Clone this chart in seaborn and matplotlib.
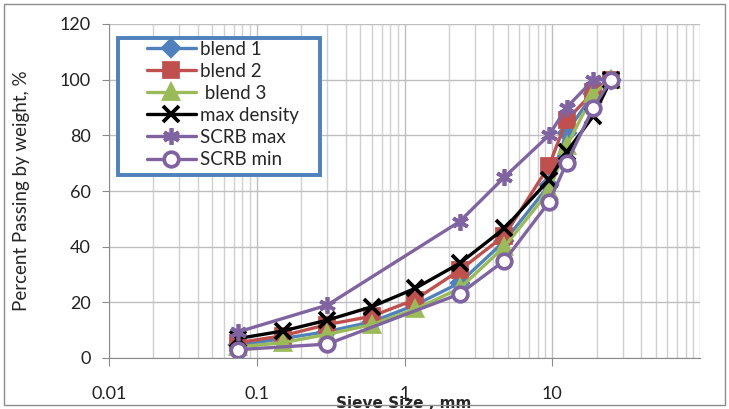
import numpy as np
import pandas as pd
import seaborn as sns
import matplotlib.pyplot as plt
from matplotlib.patches import Rectangle
from matplotlib.ticker import LogLocator, NullFormatter, FixedLocator

sieve = [0.075, 0.15, 0.3, 0.6, 1.18, 2.36, 4.75, 9.5, 12.5, 19, 25]
blend1 = [4.5, 7, 9.5, 13, 19, 27, 42, 62, 81, 95, 100]
blend2 = [5.5, 8, 12, 15, 21, 31.5, 44, 69, 85.5, 95.5, 100]
blend3 = [4, 5.5, 8.5, 12, 17.5, 25, 40, 60, 76, 95, 100]
max_density = [7, 9.7, 13.6, 18.4, 25, 34, 46.6, 64, 74, 87, 100]
scrb_sieve = [0.075, 0.3, 2.36, 4.75, 9.5, 12.5, 19, 25]
scrb_max = [9.4, 19, 49, 65, 80, 90, 100, 100]
scrb_min = [3, 5, 23, 35, 56, 70, 90, 100]

sns.set_style("white")
plt.rcParams['font.family'] = ['Lato', 'DejaVu Sans']

fig = plt.figure(figsize=(7.29, 4.09), dpi=100)
ax = fig.add_axes([109/729, 1-358/409, (700-109)/729, (358-24)/409])

series = [
    ("blend 1", sieve, blend1, "#4F81BD", "D", "#4F81BD", 8),
    ("blend 2", sieve, blend2, "#C0504D", "s", "#C0504D", 9.5),
    (" blend 3", sieve, blend3, "#9BBB59", "^", "#9BBB59", 9.5),
    ("max density", sieve, max_density, "black", "x", "black", 11),
    ("SCRB max", scrb_sieve, scrb_max, "#8064A2", (6, 2, 0), "#8064A2", 12),
    ("SCRB min", scrb_sieve, scrb_min, "#8064A2", "o", "white", 10.5),
]
for name, xs, ys, col, mk, fc, ms in series:
    sns.lineplot(x=xs, y=ys, ax=ax, color=col, lw=2.4, marker=mk, markersize=ms,
                 markerfacecolor=fc, markeredgecolor=col, markeredgewidth=2.7,
                 label=name, sort=False)

ax.set_xscale("log")
ax.set_xlim(0.01, 100)
ax.set_ylim(0, 120)
ax.set_yticks(range(0, 121, 20))
ax.xaxis.set_major_locator(FixedLocator([0.01, 0.1, 1, 10]))
ax.set_xticklabels(["0.01", "0.1", "1", "10"])
ax.xaxis.set_minor_locator(LogLocator(base=10, subs=np.arange(2, 10)))
ax.xaxis.set_minor_formatter(NullFormatter())

ax.grid(True, which="major", axis="both", color="#BEBEBE", lw=1)
ax.grid(True, which="minor", axis="x", color="#D0D0D0", lw=1)
ax.axvline(100, color="#BEBEBE", lw=1)
for s in ["top", "right"]:
    ax.spines[s].set_visible(False)
for s in ["left", "bottom"]:
    ax.spines[s].set_color("#8C8C8C")
ax.tick_params(axis="x", which="major", direction="out", length=6, color="#8C8C8C",
               labelsize=13, pad=14, labelcolor="#222222")
ax.tick_params(axis="x", which="minor", length=0)
ax.tick_params(axis="y", direction="out", length=5, color="#8C8C8C", labelsize=13,
               pad=8, labelcolor="#222222")
ax.tick_params(left=True, bottom=True)

ax.set_xlabel("Sieve Size , mm", fontsize=11, fontweight="bold",
              family=["DejaVu Sans"])
ax.xaxis.set_label_coords((404-109)/591, -(403-358)/334)
ax.xaxis.label.set_va("center")
ax.set_ylabel("Percent Passing by weight, %", fontsize=13.5)
ax.yaxis.set_label_coords((22-109)/591, 0.5)
ax.yaxis.label.set_va("center")

leg = ax.legend(loc="upper left", bbox_to_anchor=(143/729, 1-37/409),
                bbox_transform=fig.transFigure, fontsize=13.5, frameon=False,
                handlelength=2.6, handletextpad=0.25, borderpad=0.2,
                labelspacing=0.27, borderaxespad=0)
leg.set_zorder(6)
box = Rectangle((118/729, 1-175/409), 202/729, 137/409, transform=fig.transFigure,
                facecolor="white", edgecolor="#4F81BD", lw=2.8, zorder=5,
                clip_on=False)
ax.add_artist(box)

fig.patches.append(Rectangle((4/729, 4/409), 721/729, 401/409, transform=fig.transFigure,
                             fill=False, edgecolor="#8C8C8C", lw=1))

fig.savefig("out.png", dpi=100)
